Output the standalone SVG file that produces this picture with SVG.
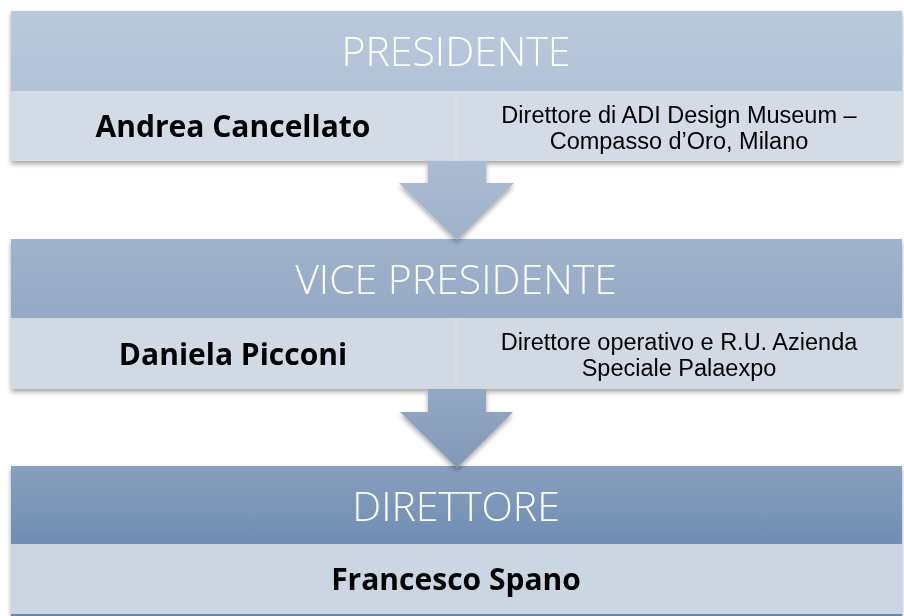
<svg xmlns="http://www.w3.org/2000/svg" width="904" height="616" viewBox="0 0 904 616">
  <defs>
    <linearGradient id="h1" x1="0" y1="0" x2="0" y2="1">
      <stop offset="0" stop-color="#bac8db"/>
      <stop offset="1" stop-color="#b2c2d8"/>
    </linearGradient>
    <linearGradient id="h2" x1="0" y1="0" x2="0" y2="1">
      <stop offset="0" stop-color="#a0b3cc"/>
      <stop offset="1" stop-color="#95a9c6"/>
    </linearGradient>
    <linearGradient id="h3" x1="0" y1="0" x2="0" y2="1">
      <stop offset="0" stop-color="#889fbe"/>
      <stop offset="1" stop-color="#6f8eb4"/>
    </linearGradient>
    <linearGradient id="a1" x1="0" y1="0" x2="0" y2="1">
      <stop offset="0" stop-color="#abbbd2"/>
      <stop offset="1" stop-color="#9fb1ca"/>
    </linearGradient>
    <linearGradient id="a2" x1="0" y1="0" x2="0" y2="1">
      <stop offset="0" stop-color="#93a8c4"/>
      <stop offset="1" stop-color="#8298b8"/>
    </linearGradient>
    <filter id="sh" x="-5%" y="-20%" width="110%" height="140%">
      <feDropShadow dx="0" dy="3" stdDeviation="2.5" flood-color="#000" flood-opacity="0.35"/>
    </filter>
  </defs>
  <style>
    .title { font-family: "Open Sans", "Noto Sans", sans-serif; font-weight: 300; font-size: 41px; fill: #ffffff; text-anchor: middle; }
    .name { font-family: "Open Sans", "Noto Sans", sans-serif; font-weight: 700; font-size: 30px; fill: #000000; text-anchor: middle; }
    .desc { font-family: "Liberation Sans", Arial, sans-serif; font-weight: 400; font-size: 23.5px; fill: #000000; text-anchor: middle; }
    .div { stroke: #dce3ec; stroke-width: 1; }
  </style>
  <rect width="904" height="616" fill="#ffffff"/>

  <g id="box1" filter="url(#sh)">
    <rect x="11" y="11" width="891" height="80" fill="url(#h1)"/>
    <rect x="11" y="91" width="891" height="70" fill="#d3dbe6"/>
    <line class="div" x1="456" y1="91" x2="456" y2="161"/>
    <text class="title" x="456" y="66">PRESIDENTE</text>
    <text class="name" x="233" y="137">Andrea Cancellato</text>
    <text class="desc" x="679" y="122.5">Direttore di ADI Design Museum –</text>
    <text class="desc" x="679" y="149">Compasso d’Oro, Milano</text>
  </g>

  <g id="box2" filter="url(#sh)">
    <rect x="11" y="239" width="891" height="79" fill="url(#h2)"/>
    <rect x="11" y="318" width="891" height="71" fill="#d1d9e4"/>
    <line class="div" x1="456" y1="318" x2="456" y2="389"/>
    <text class="title" x="456" y="294">VICE PRESIDENTE</text>
    <text class="name" x="233" y="365">Daniela Picconi</text>
    <text class="desc" x="679" y="349.5">Direttore operativo e R.U. Azienda</text>
    <text class="desc" x="679" y="376">Speciale Palaexpo</text>
  </g>

  <g id="box3" filter="url(#sh)">
    <rect x="11" y="466" width="891" height="78" fill="url(#h3)"/>
    <rect x="11" y="544" width="891" height="70" fill="#ccd6e2"/>
    <rect x="11" y="614" width="891" height="2" fill="#6a88ad"/>
    <text class="title" x="456" y="521">DIRETTORE</text>
    <text class="name" x="456" y="590">Francesco Spano</text>
  </g>

  <g id="connectors" filter="url(#sh)">
    <path d="M428,161 H486 V183 H514 L457,240 L399,183 H428 Z" fill="url(#a1)"/>
    <path d="M428,389 H486 V412 H513 L457,468 L400,412 H428 Z" fill="url(#a2)"/>
  </g>
</svg>
